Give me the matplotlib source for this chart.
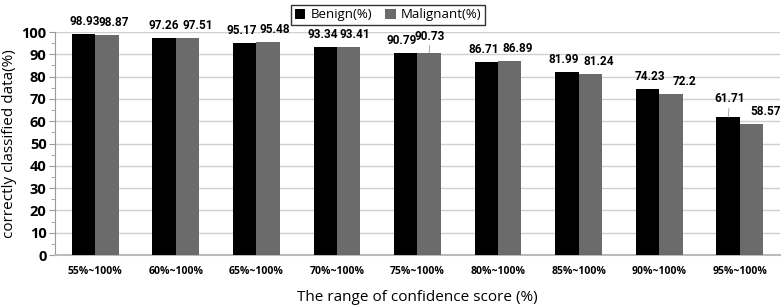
import numpy as np
import matplotlib.pyplot as plt

plt.rcParams['font.family'] = ['Open Sans', 'DejaVu Sans']

ranges = ['55%~100%', '60%~100%', '65%~100%', '70%~100%', '75%~100%',
          '80%~100%', '85%~100%', '90%~100%', '95%~100%']
benign = [98.93, 97.26, 95.17, 93.34, 90.79, 86.71, 81.99, 74.23, 61.71]
malignant = [98.87, 97.51, 95.48, 93.41, 90.73, 86.89, 81.24, 72.2, 58.57]

# horizontal nudges (pixels) of the value labels, as placed in the original
benign_dx = [1, 0, -3, -2, -4, -3, -3, 2, 2]
malignant_dx = [7, 10, 7, 6, 1, 8, 8, 14, 14]

fig = plt.figure(figsize=(7.84, 3.08), dpi=100)
ax = fig.add_axes([0.070, 0.172, 0.925, 0.724])

x = np.arange(len(ranges))
w = 0.29
ax.bar(x - w / 2, benign, w, color='black', label='Benign(%)', zorder=3)
ax.bar(x + w / 2, malignant, w, color='#6b6b6b', label='Malignant(%)', zorder=3)

lbl = dict(ha='center', va='bottom', fontsize=8.5, fontweight='bold',
           family=['Roboto', 'DejaVu Sans'], textcoords='offset pixels')
for i, v in enumerate(benign):
    dy = 12 if i == 8 else 6
    kw = {}
    if i == 8:
        kw['arrowprops'] = dict(arrowstyle='-', color='#999999', lw=0.6,
                                shrinkA=0, shrinkB=0)
    ax.annotate(f'{v:g}', (x[i] - w / 2, v), xytext=(benign_dx[i], dy), **lbl, **kw)
for i, v in enumerate(malignant):
    dy = 10 if i == 4 else 6
    kw = {}
    if i == 4:
        kw['arrowprops'] = dict(arrowstyle='-', color='#999999', lw=0.6,
                                shrinkA=0, shrinkB=0)
    ax.annotate(f'{v:g}', (x[i] + w / 2, v), xytext=(malignant_dx[i], dy), **lbl, **kw)

ax.set_ylim(0, 100)
ax.set_xlim(-0.5, len(ranges) - 0.5)
ax.set_yticks(np.arange(0, 101, 10))
ax.set_yticks(np.arange(0, 101, 5), minor=True)
ax.tick_params(axis='y', which='major', length=4, color='#999999', labelsize=10.5, pad=2)
ax.tick_params(axis='y', which='minor', length=3, color='#999999')
ax.set_xticks(x)
ax.set_xticklabels(ranges, fontsize=7.5, fontweight='bold')
ax.tick_params(axis='x', length=0, pad=8)
for lab in ax.get_yticklabels():
    lab.set_fontweight('bold')

ax.grid(axis='y', color='#d0d0d0', linewidth=1, zorder=0)
for s in ['top', 'right']:
    ax.spines[s].set_visible(False)
ax.spines['left'].set_color('#999999')
ax.spines['bottom'].set_color('#bbbbbb')
ax.spines['bottom'].set_linewidth(1.5)

ax.set_ylabel('correctly classified data(%)', fontsize=11, labelpad=3)
ax.set_xlabel('The range of confidence score (%)', fontsize=11, labelpad=9)

leg = fig.legend(loc='upper center', bbox_to_anchor=(0.495, 1.005), ncol=2,
                 fontsize=9.5, frameon=True, fancybox=False, edgecolor='black',
                 handlelength=0.8, handleheight=0.8, handletextpad=0.4,
                 columnspacing=1.0, borderpad=0.25)
leg.get_frame().set_linewidth(1.0)

fig.savefig('out.png', dpi=100)
